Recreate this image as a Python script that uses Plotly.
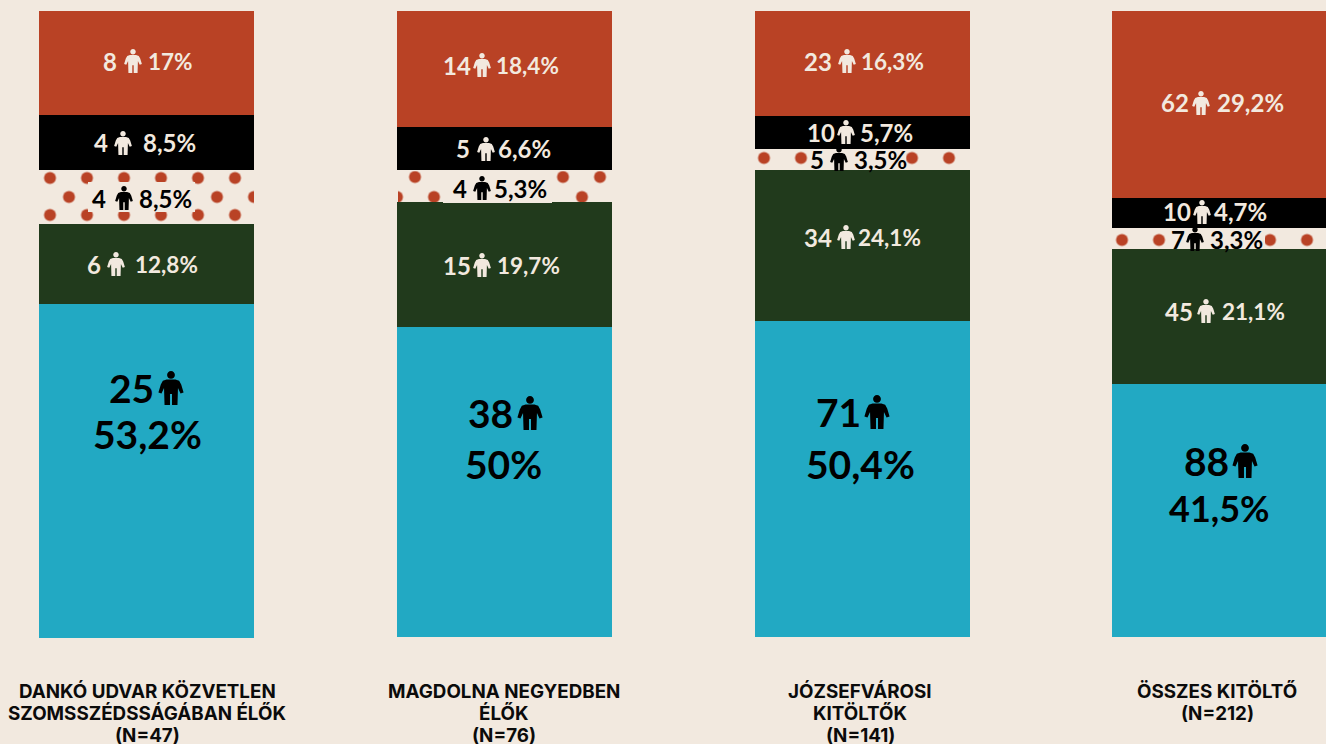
import plotly.graph_objects as go

W, H = 1326, 744
CREAM, RED, GREEN, BLUE, BLACK = "#F2E9DF", "#B94225", "#213A1C", "#22A9C3", "#000000"

category_lines = [["DANKÓ UDVAR KÖZVETLEN", "SZOMSSZÉDSSÁGÁBAN ÉLŐK", "(N=47)"],
                  ["MAGDOLNA NEGYEDBEN", "ÉLŐK", "(N=76)"],
                  ["JÓZSEFVÁROSI", "KITÖLTŐK", "(N=141)"],
                  ["ÖSSZES KITÖLTŐ", "(N=212)"]]
# bar shares, bottom segment first
blue_share = [53.2, 49.5, 50.5, 40.4]
green_share = [12.8, 20.0, 24.1, 21.6]
dotted_share = [8.6, 5.1, 3.4, 3.3]
black_share = [8.8, 6.9, 5.3, 4.8]
red_share = [16.6, 18.5, 16.7, 29.9]

red_counts = ["8", "14", "23", "62"]
red_pcts = ["17%", "18,4%", "16,3%", "29,2%"]
black_counts = ["4", "5", "10", "10"]
black_pcts = ["8,5%", "6,6%", "5,7%", "4,7%"]
dotted_counts = ["4", "4", "5", "7"]
dotted_pcts = ["8,5%", "5,3%", "3,5%", "3,3%"]
green_counts = ["6", "15", "34", "45"]
green_pcts = ["12,8%", "19,7%", "24,1%", "21,1%"]
blue_counts = ["25", "38", "71", "88"]
blue_pcts = ["53,2%", "50%", "50,4%", "41,5%"]

# layout (pixels)
bar_left = [39, 397, 755, 1112]
bar_right = [254, 612, 970, 1326]
bar_width = 215
bar_bottom = [638, 637, 637, 637]
bar_top = 11
label_x = [147, 503.5, 860, 1217]
label_y = [691, 713, 735]
# one lattice of dots per entry: column, x of a dot, y of a dot
dot_lattices = [(0, 50, 178), (0, 32, 197), (1, 415, 177), (1, 397 - 37, 197), (2, 764, 158), (3, 1122, 240)]
DOT_TILE = 37

red_pos = [(118, 133, 147, 61), (472, 482, 495, 65), (833, 847, 860, 61), (1190, 1201, 1216, 103)]
black_pos = [(109, 123, 142, 143), (471, 486, 497, 149), (836, 846, 859, 132), (1192, 1202, 1213, 212)]
dotted_pos = [(107, 124, 138, 198), (468, 482, 493, 188), (825, 839, 853, 159), (1186, 1195, 1209, 239)]
green_pos = [(102, 116, 134, 264), (472, 482, 496, 265), (833, 846, 857, 237), (1194, 1206, 1221, 311)]
blue_pos = [(155, 171, 147, 388, 434), (514, 530, 503.5, 413, 464), (862, 877, 860.5, 412, 464), (1230, 1245, 1219.5, 461, 508)]
dot_boxes = [(88, 195, 182, 212), (443, 552, 170, 203), (808, 906, 149, 170), (1168, 1265, 228, 249)]

PX = lambda x: x / W
PY = lambda y: 1 - y / H


def icon(cx, cy, h, color):
    """Person pictogram as a closed path, in paper coordinates."""
    top = cy - h / 2
    pt = lambda u, v: f"{PX(cx + u * h):.5f},{PY(top + v * h):.5f}"
    r, k = 0.115, 0.115 * 0.5523
    c = 0.115
    head = (f"M{pt(-r, c)} C{pt(-r, c - k)} {pt(-k, 0)} {pt(0, 0)} "
            f"C{pt(k, 0)} {pt(r, c - k)} {pt(r, c)} "
            f"C{pt(r, c + k)} {pt(k, 2 * c)} {pt(0, 2 * c)} "
            f"C{pt(-k, 2 * c)} {pt(-r, c + k)} {pt(-r, c)} Z")
    outline = [(-0.13, 0.25), (-0.24, 0.29), (-0.30, 0.40), (-0.37, 0.63), (-0.28, 0.66), (-0.205, 0.50),
               (-0.19, 1), (-0.03, 1), (-0.03, 0.68), (0.03, 0.68), (0.03, 1), (0.19, 1),
               (0.205, 0.50), (0.28, 0.66), (0.37, 0.63), (0.30, 0.40), (0.24, 0.29), (0.13, 0.25)]
    body = "M" + " L".join(pt(u, v) for u, v in outline) + " Z"
    return dict(type="path", xref="paper", yref="paper", path=head + " " + body,
                fillcolor=color, line=dict(width=0), layer="above")


fig = go.Figure()
series = [("blue", blue_share, BLUE), ("green", green_share, GREEN), ("dotted", dotted_share, CREAM),
          ("black", black_share, BLACK), ("red", red_share, RED)]
axes = {}
for col in range(4):
    suffix = "" if col == 0 else str(col + 1)
    for name, values, color in series:
        fig.add_trace(go.Bar(x=[0], y=[values[col]], name=name, width=1,
                             marker=dict(color=color, line=dict(width=0)),
                             xaxis="x" + suffix, yaxis="y" + suffix, showlegend=False, hoverinfo="skip"))
    cx = bar_left[col] + bar_width / 2
    axes["xaxis" + suffix] = dict(domain=[PX(bar_left[col]), PX(bar_right[col])],
                                  range=[(bar_left[col] - cx) / bar_width, (bar_right[col] - cx) / bar_width],
                                  visible=False, anchor="y" + suffix, fixedrange=True)
    axes["yaxis" + suffix] = dict(domain=[PY(bar_bottom[col]), PY(bar_top)], range=[0, 100],
                                  visible=False, anchor="x" + suffix, fixedrange=True)

# Dotted band overlays: each lattice sits in its own subplot, whose origin fixes the dot phase.
for i, (col, dot_x, dot_y) in enumerate(dot_lattices):
    suffix = str(5 + i)
    ox, oy = dot_x - DOT_TILE / 2, dot_y - DOT_TILE / 2
    base = blue_share[col] + green_share[col]
    fig.add_trace(go.Bar(x=[0], y=[dotted_share[col]], base=[base], width=1, name="dots",
                         marker=dict(color="rgba(0,0,0,0)", line=dict(width=0),
                                     pattern=dict(shape=".", fgcolor=RED, bgcolor="rgba(0,0,0,0)", size=DOT_TILE,
                                                  solidity=0.082, fillmode="replace")),
                         xaxis="x" + suffix, yaxis="y" + suffix, showlegend=False, hoverinfo="skip"))
    cx = bar_left[col] + bar_width / 2
    scale = (bar_bottom[col] - bar_top) / 100
    axes["xaxis" + suffix] = dict(domain=[PX(ox), PX(bar_right[col])],
                                  range=[(ox - cx) / bar_width, (bar_right[col] - cx) / bar_width],
                                  visible=False, anchor="y" + suffix, fixedrange=True)
    axes["yaxis" + suffix] = dict(domain=[PY(bar_bottom[col]), PY(oy)],
                                  range=[0, (bar_bottom[col] - oy) / scale],
                                  visible=False, anchor="x" + suffix, fixedrange=True)

shapes, annotations = [], []
NUM_FONT = "Lato"


def txt(text, x, y, size, color, anchor, weight=700):
    annotations.append(dict(text=text, x=PX(x), y=PY(y), xref="paper", yref="paper", xanchor=anchor,
                            yanchor="middle", showarrow=False, borderpad=0,
                            font=dict(family=NUM_FONT, size=size, color=color, weight=weight)))


for box in dot_boxes:
    shapes.append(dict(type="rect", xref="paper", yref="paper", x0=PX(box[0]), x1=PX(box[1]),
                       y0=PY(box[3]), y1=PY(box[2]), fillcolor=CREAM, line=dict(width=0), layer="above"))

for counts, pcts, pos, color in [(red_counts, red_pcts, red_pos, CREAM), (black_counts, black_pcts, black_pos, CREAM),
                                 (dotted_counts, dotted_pcts, dotted_pos, BLACK),
                                 (green_counts, green_pcts, green_pos, CREAM)]:
    for c, p, (xr, xi, xl, y) in zip(counts, pcts, pos):
        txt(c, xr, y, 24, color, "right")
        txt(p, xl, y, 22.5 if "1" in p else 24, color, "left")
        shapes.append(icon(xi, y, 24, color))

for c, p, (xr, xi, xc, y1, y2) in zip(blue_counts, blue_pcts, blue_pos):
    txt(c, xr, y1, 39, BLACK, "right")
    txt(p, xc, y2, 36 if "1" in p else 39, BLACK, "center")
    shapes.append(icon(xi, y1, 34, BLACK))

for lines, x in zip(category_lines, label_x):
    for line, y in zip(lines, label_y):
        annotations.append(dict(text=line, x=PX(x), y=PY(y), xref="paper", yref="paper", xanchor="center",
                                yanchor="middle", showarrow=False, borderpad=0,
                                font=dict(family="Inter", size=18.8, color="#0b0b0b", weight=700)))

fig.update_layout(width=W, height=H, margin=dict(l=0, r=0, t=0, b=0), paper_bgcolor=CREAM, plot_bgcolor="rgba(0,0,0,0)",
                  barmode="stack", bargap=0, shapes=shapes, annotations=annotations, **axes)
fig.write_html("out.html", config=dict(displayModeBar=False),
               post_script="document.body.style.margin='0';document.body.style.overflow='hidden';document.body.style.background='#F2E9DF';")
